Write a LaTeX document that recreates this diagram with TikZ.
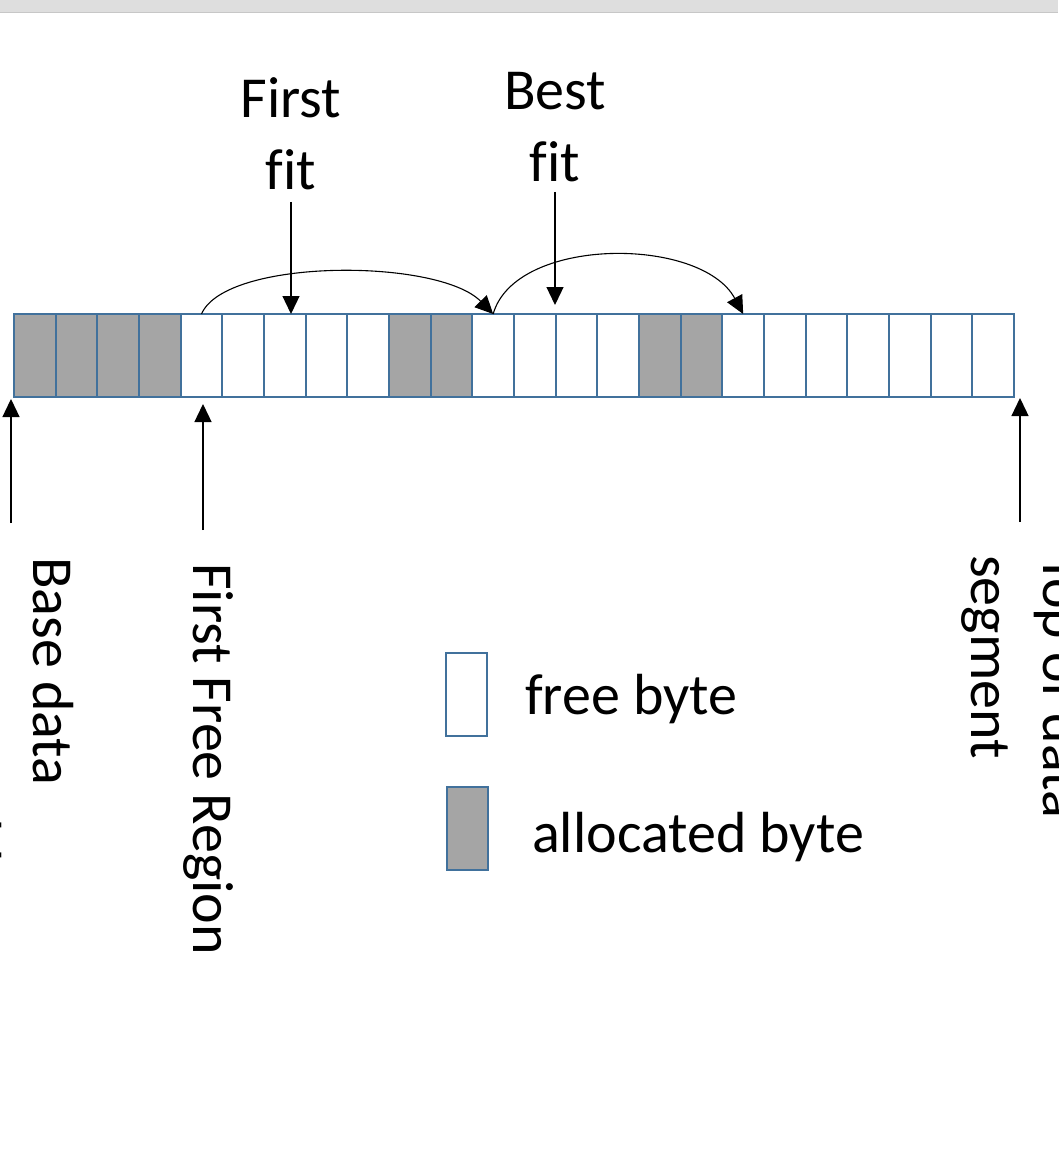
\documentclass[tikz,border=0pt]{standalone}
\usepackage{fontspec}
\setmainfont{Carlito}[Ligatures=NoCommon]
\usetikzlibrary{arrows.meta}

\definecolor{cellblue}{HTML}{41719C}
\definecolor{cellgray}{HTML}{A5A5A5}

\begin{document}
\begin{tikzpicture}[x=1pt,y=-1pt,
		byte/.style={draw=cellblue, line width=2pt, minimum width=41.67pt, minimum height=83pt, inner sep=0pt, outer sep=0pt},
		free/.style={byte, fill=white},
		used/.style={byte, fill=cellgray},
		lbl/.style={font=\fontsize{58}{72}\selectfont, inner sep=0pt},
		ptr/.style={-{Triangle[length=18pt,width=17pt]}, line width=1.3pt},
		hop/.style={-{Triangle[length=18pt,width=17pt]}, line width=1.1pt}]
	\useasboundingbox (0,0) rectangle (1058,1158);
	\fill[black!13] (0,0) rectangle (1058,12);
	\draw[black!22] (0,12.5) -- (1058,12.5);
	% the bytes of the data segment
	\foreach \kind [count=\i] in {used,used,used,used,free,free,free,free,free,used,used,free,free,free,free,used,used,free,free,free,free,free,free,free}
		\node[\kind] (c\i) at ({14+41.667*(\i-0.5)},355.5) {};
	% fit labels above
	\node[lbl, align=center, anchor=south] (firstfit) at (291,190) {First\\fit};
	\node[lbl, align=center, anchor=south] (bestfit) at (555,182) {Best\\fit};
	\draw[ptr, shorten <=12pt] (firstfit.south) -- (firstfit.south |- c7.north);
	\draw[ptr, shorten <=10pt, shorten >=9pt] (bestfit.south) -- (bestfit.south |- c14.north);
	\draw[hop] (c5.north) .. controls +(24,-56) and +(-55,-56) .. (c12.north);
	\draw[hop] (c12.north) .. controls +(22,-78) and +(-42,-78) .. (c18.north);
	% pointers below
	\coordinate (basetail) at (11,523);
	\coordinate (ffrtail) at (203,530);
	\coordinate (toptail) at (1020,522);
	\draw[ptr, shorten >=2pt] (basetail) -- (basetail |- c1.south);
	\draw[ptr, shorten >=7pt] (ffrtail) -- (ffrtail |- c5.south);
	\draw[ptr, shorten >=1pt] (toptail) -- (toptail |- c24.south);
	\node[lbl, rotate=-90, align=left, anchor=north west] (basedata) at (74,557) {Base data\\segment address};
	\node[lbl, rotate=-90, anchor=base west] (firstfree) at (193,563) {First Free Region};
	\node[lbl, rotate=-90, align=left, anchor=north west] (topdata) at (1084,555) {Top of data\\segment};
	% legend
	\node[free] (freekey) at (466.5,694) {};
	\node[used] (usedkey) at (467.5,828) {};
	\node[lbl, anchor=base west] (freetext) at (525,714) {free byte};
	\node[lbl, anchor=base west] (usedtext) at (532,852) {allocated byte};
\end{tikzpicture}
\end{document}
